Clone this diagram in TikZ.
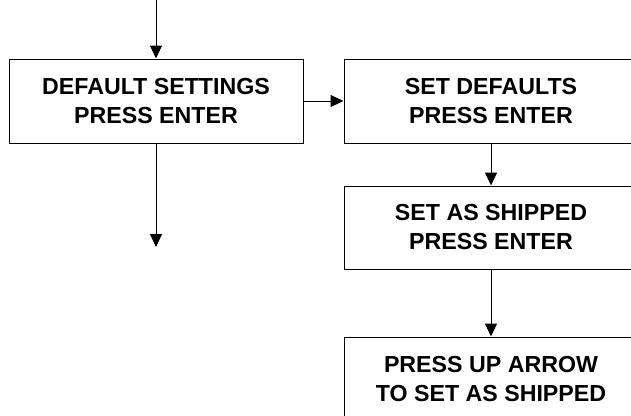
\documentclass[tikz,border=0pt]{standalone}
\usepackage{fontspec}
\setmainfont{Liberation Sans}
\usetikzlibrary{arrows.meta,positioning}

\begin{document}
\begin{tikzpicture}
[->,>={Triangle[length=13pt,width=12pt]},line width=1pt,x=1pt,y=-1pt]\tikzstyle{menubox}
=[draw=black,align=center,minimum width=294pt,minimum height=84pt,font=\fontsize{23.2}{29}\selectfont\bfseries]
\path[use as bounding box,clip] (0,0) rectangle (631,415);
\node[menubox] (dflt) at (156,101) {DEFAULT SETTINGS\\PRESS ENTER};
\node[menubox] (setdflt) [right=40pt of dflt] {SET DEFAULTS\\PRESS ENTER};
\node[menubox, minimum height=83pt] (ship) [below=42pt of setdflt] {SET AS SHIPPED\\PRESS ENTER};
\node[menubox] (uparrow) [below=67pt of ship] {PRESS UP ARROW\\TO SET AS SHIPPED};
\coordinate (in) at (156,0);
\coordinate (out) at (156,247);

\path
(in) edge (dflt)

(dflt) edge (setdflt)

(dflt) edge (out)

(setdflt) edge (ship)

(ship) edge (uparrow)
;\end{tikzpicture}
\end{document}
